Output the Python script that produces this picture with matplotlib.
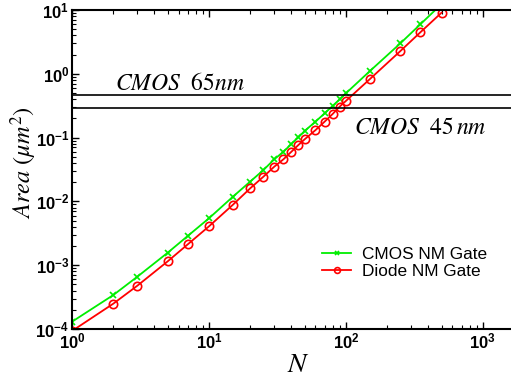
import matplotlib
matplotlib.use("Agg")
import matplotlib.pyplot as plt

plt.rcParams['mathtext.fontset'] = 'stix'
plt.rcParams['font.family'] = ['Liberation Sans', 'DejaVu Sans']

N_cmos = [1, 2, 3, 5, 7, 10, 15, 20, 25, 30, 35, 40, 45, 50, 60, 70, 80, 90, 100, 150, 250, 350, 500]
area_cmos = [1.30e-4, 3.4e-4, 6.6e-4, 1.57e-3, 2.87e-3, 5.43e-3, 1.19e-2, 2.04e-2, 3.1e-2, 4.57e-2,
             6.0e-2, 7.94e-2, 0.101, 0.127, 0.178, 0.24, 0.313, 0.398, 0.494, 1.107, 3.0, 5.97, 12.4]
N_diode = [1, 2, 3, 5, 7, 10, 15, 20, 25, 30, 35, 40, 45, 50, 60, 70, 80, 90, 100, 150, 250, 350, 500]
area_diode = [0.93e-4, 2.49e-4, 4.77e-4, 1.15e-3, 2.12e-3, 4.06e-3, 8.9e-3, 1.6e-2, 2.44e-2, 3.5e-2,
              4.57e-2, 6.0e-2, 7.65e-2, 9.4e-2, 0.131, 0.178, 0.234, 0.305, 0.375, 0.829, 2.27, 4.47, 9.08]
cmos65 = 0.46
cmos45 = 0.29
labels = ['CMOS NM Gate', 'Diode NM Gate']

fig = plt.figure(figsize=(5.11, 3.81), dpi=100)
ax = fig.add_axes([72/511, 1-329/381, 452/511, 319/381])

ax.plot(N_cmos, area_cmos, color='#00ee00', marker='x', markersize=5, mew=1.2, lw=1.3, label=labels[0])
ax.plot(N_diode, area_diode, color='#ff0000', marker='o', markersize=6, mfc='none', mew=1.2, lw=1.3, label=labels[1])
ax.axhline(cmos65, color='black', lw=1.2)
ax.axhline(cmos45, color='black', lw=1.2)

ax.set_xscale('log')
ax.set_yscale('log')
ax.set_xlim(1, 2000)
ax.set_ylim(1e-4, 10)

ax.text(6.1, 0.70, r'$CMOS\ \ 65nm$', fontsize=17, ha='center', va='center')
ax.text(350, 0.14, r'$CMOS\ \ 45\,nm$', fontsize=17, ha='center', va='center')

ax.set_xlabel(r'$N$', fontsize=20, labelpad=0)
ax.set_ylabel(r'$Area\ (\mu m^2)$', fontsize=17.5)
ax.yaxis.set_label_coords(-0.074, 0.52)

ax.tick_params(which='both', direction='in', top=True, right=True, labelsize=12, pad=2)
ax.tick_params(which='major', length=5, width=1)
ax.tick_params(which='minor', length=3, width=0.8)
for lab in ax.get_xticklabels() + ax.get_yticklabels():
    lab.set_fontweight('bold')
for s in ax.spines.values():
    s.set_linewidth(1.5)

leg = ax.legend(loc='upper left', bbox_to_anchor=(322/511, 1-247/381), bbox_transform=fig.transFigure,
                frameon=False, fontsize=12.4, markerscale=0.7,
                handlelength=1.7, handletextpad=0.6, borderpad=0, borderaxespad=0, labelspacing=0.12)

fig.savefig('out.png', dpi=100)
